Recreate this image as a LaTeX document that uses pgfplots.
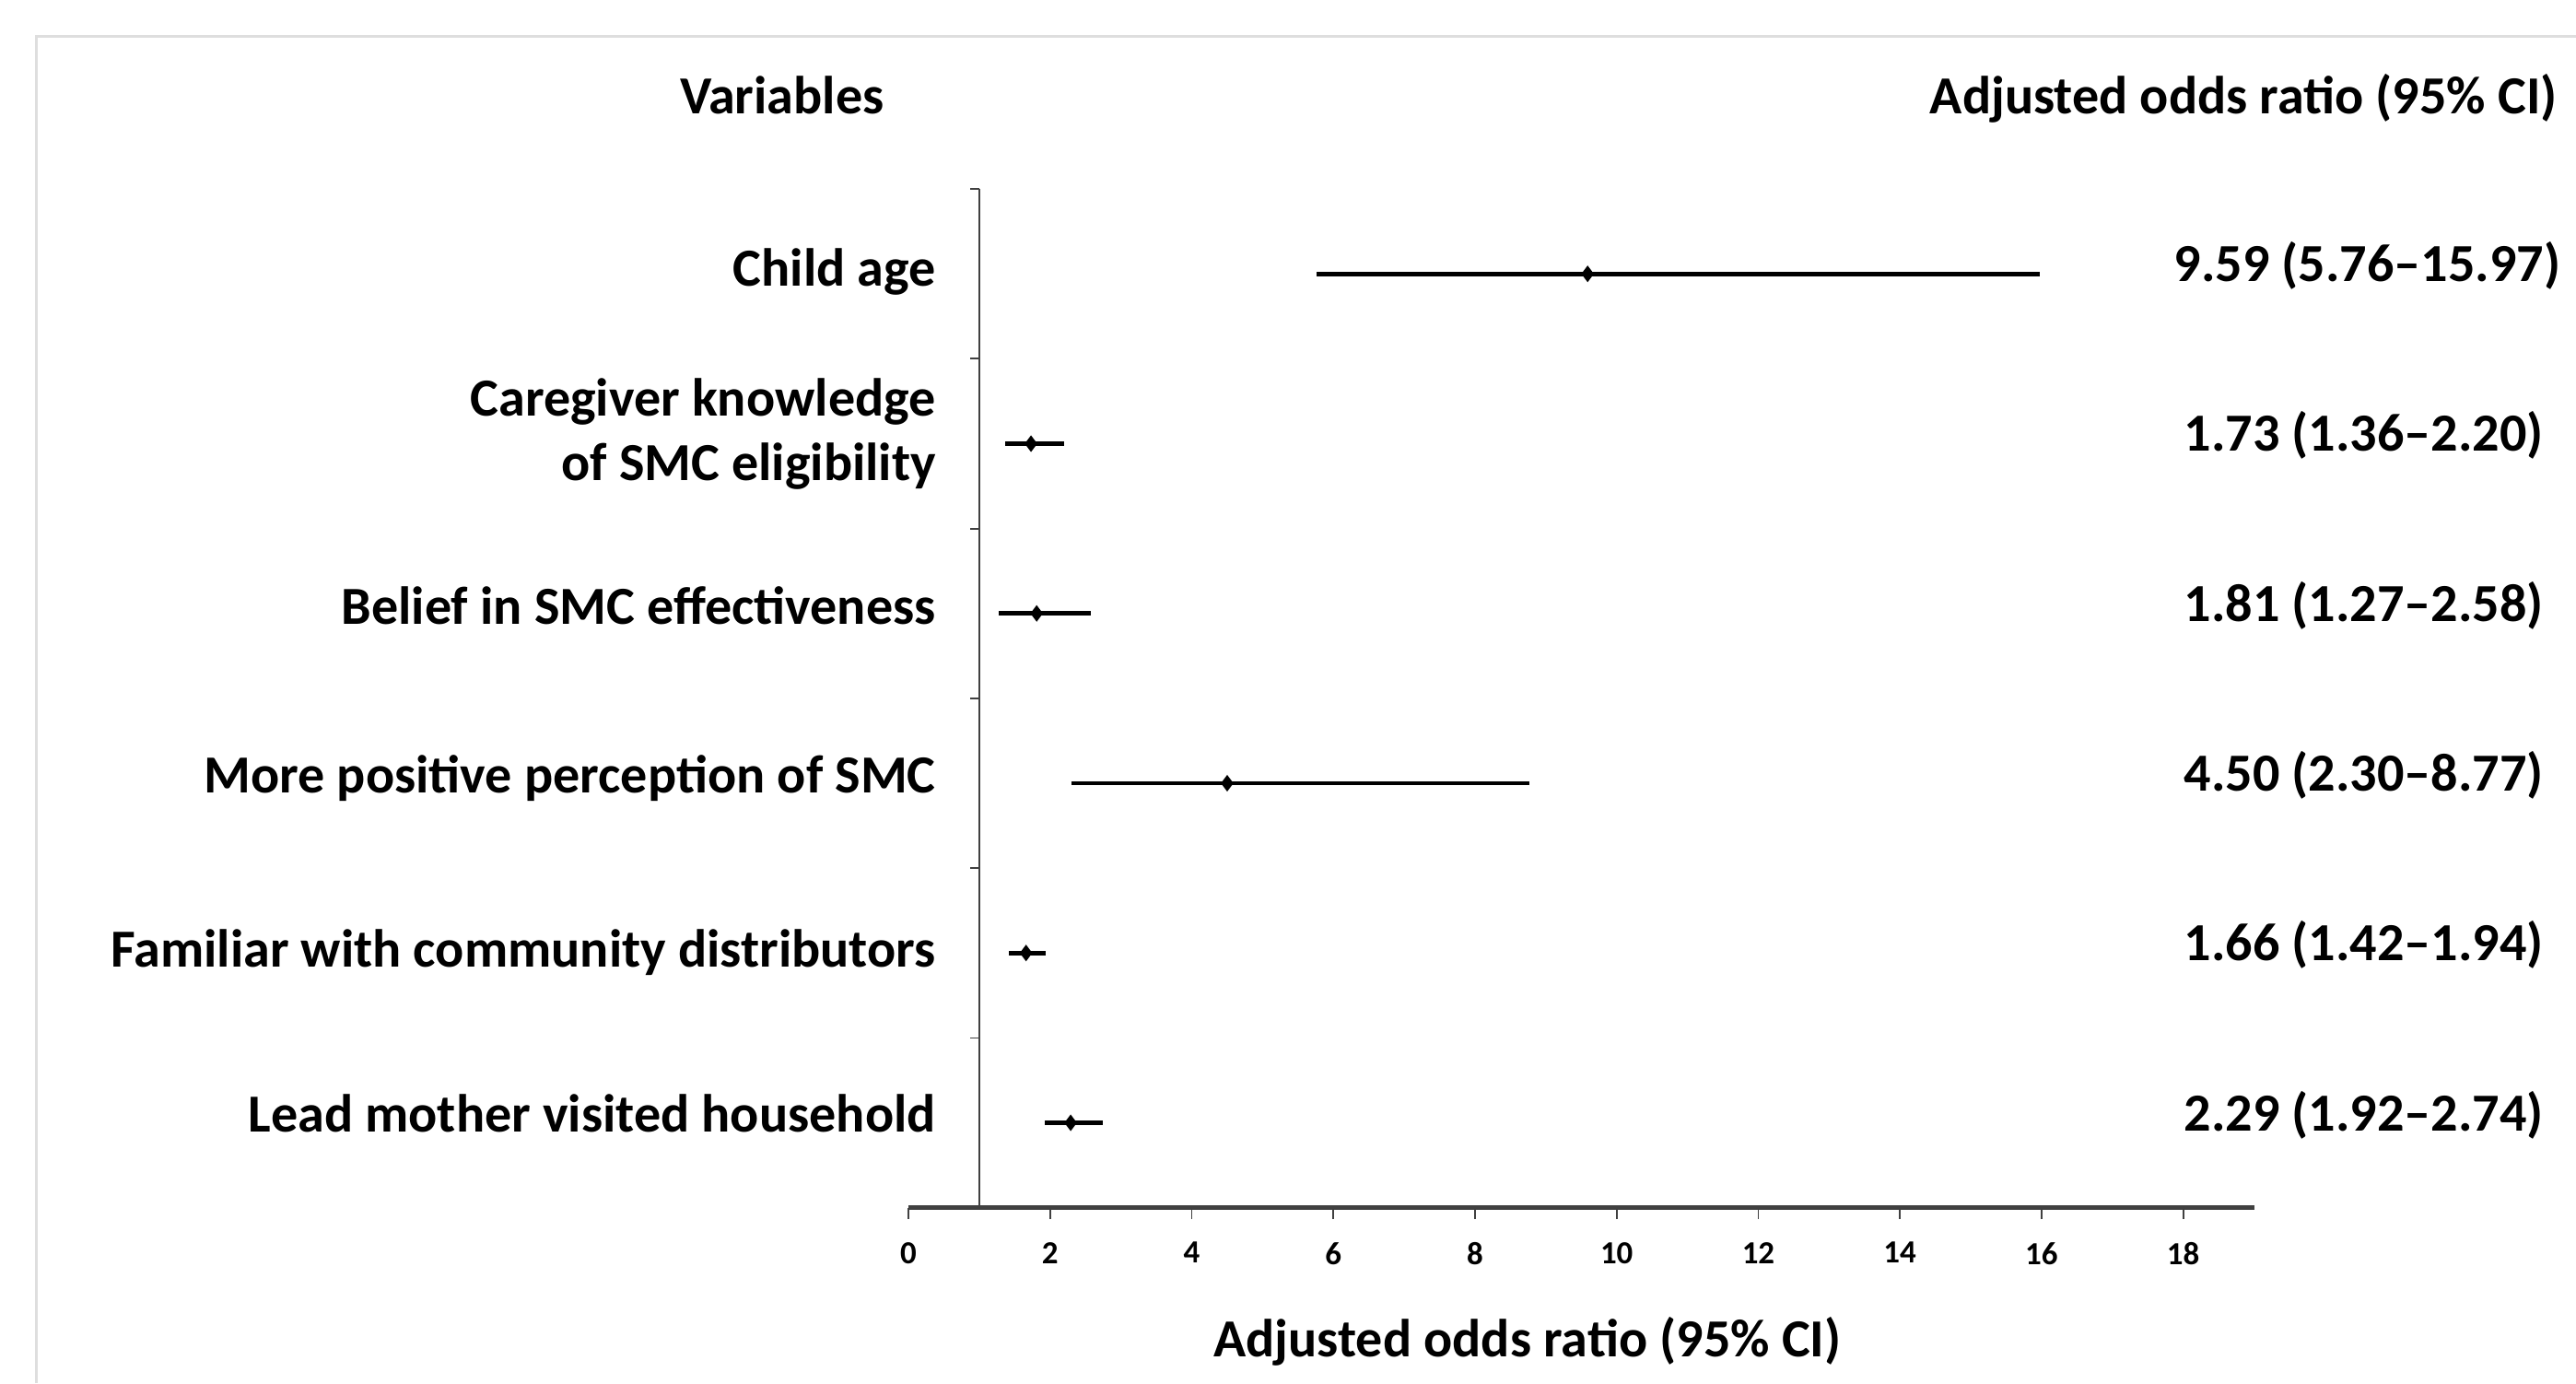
\documentclass[border=0pt]{standalone}
\usepackage{fontspec}
\setmainfont{Carlito}
\usepackage{pgfplots}
\usepackage{pgfplotstable}
\pgfplotsset{compat=1.18}

\pgfplotstableread{
y   est   lo    hi
5.5 9.59  5.76  15.97
4.5 1.73  1.36  2.20
3.5 1.81  1.27  2.58
2.5 4.50  2.30  8.77
1.5 1.66  1.42  1.94
0.5 2.29  1.92  2.74
}\ortable

\begin{document}
\begin{tikzpicture}
\useasboundingbox (0,0) rectangle (784pt,-421pt);
\draw[black!13, line width=0.9pt] (11pt,-421pt) -- (11pt,-11pt) -- (784pt,-11pt);
\tikzset{lbl/.style={font=\fontsize{16.3}{19.5}\selectfont\bfseries, inner sep=0pt}}
\node[lbl, anchor=base] at (238pt,-34.5pt) {Variables};
\node[lbl, anchor=base east] at (778.5pt,-34.5pt) {Adjusted odds ratio (95\% CI)};
\begin{axis}[
  at={(276.5pt,-367.5pt)}, anchor=south west,
  scale only axis, width=409.5pt, height=310pt,
  xmin=0, xmax=19, ymin=0, ymax=6,
  axis x line=bottom, axis y line=none,
  x axis line style={-, line width=1.3pt, black!75},
  xtick={0,2,...,18}, ytick=\empty,
  tick align=outside, major tick length=3.5pt,
  xtick style={black!75, line width=0.5pt},
  /pgf/number format/assume math mode=true,
  xticklabel style={font=\fontsize{9.8}{11}\selectfont\bfseries, anchor=north, yshift=-3.5pt},
  xlabel={Adjusted odds ratio (95\% CI)},
  xlabel style={lbl, at={(axis description cs:0.46,0)}, anchor=base, yshift=-45.5pt},
  clip=false,
]
\draw[black!75, line width=0.5pt] (axis cs:1,0) -- (axis cs:1,6);
\pgfplotsinvokeforeach{0,...,6}{\draw[black!75, line width=0.5pt] (axis cs:1,#1) -- ++(-2.7pt,0);}
\addplot[black, only marks, mark=diamond*, mark size=2.2pt,
  error bars/.cd, x dir=both, x explicit, error mark=none,
  error bar style={line width=1.35pt, black}]
  table[x=est, y=y,
    x error plus expr=\thisrow{hi}-\thisrow{est},
    x error minus expr=\thisrow{est}-\thisrow{lo}] {\ortable};
% row labels
\node[lbl, anchor=mid east, xshift=8.5pt, yshift=-1.2pt] at (axis cs:0,5.5) {Child age};
\node[lbl, anchor=east, align=right, xshift=8.5pt, yshift=3pt] at (axis cs:0,4.5) {Caregiver knowledge\\of SMC eligibility};
\node[lbl, anchor=mid east, xshift=8.5pt, yshift=-1pt] at (axis cs:0,3.5) {Belief in SMC effectiveness};
\node[lbl, anchor=mid east, xshift=8.5pt, yshift=-0.5pt] at (axis cs:0,2.5) {More positive perception of SMC};
\node[lbl, anchor=mid east, xshift=8.5pt, yshift=-2pt] at (axis cs:0,1.5) {Familiar with community distributors};
\node[lbl, anchor=mid east, xshift=8.5pt, yshift=-0.5pt] at (axis cs:0,0.5) {Lead mother visited household};
% values
\node[lbl, anchor=mid] at (axis cs:20.6,5.5) {9.59 (5.76--15.97)};
\node[lbl, anchor=mid] at (axis cs:20.55,4.5) {1.73 (1.36--2.20)};
\node[lbl, anchor=mid] at (axis cs:20.55,3.5) {1.81 (1.27--2.58)};
\node[lbl, anchor=mid] at (axis cs:20.55,2.5) {4.50 (2.30--8.77)};
\node[lbl, anchor=mid] at (axis cs:20.55,1.5) {1.66 (1.42--1.94)};
\node[lbl, anchor=mid] at (axis cs:20.55,0.5) {2.29 (1.92--2.74)};
\end{axis}
\end{tikzpicture}
\end{document}
